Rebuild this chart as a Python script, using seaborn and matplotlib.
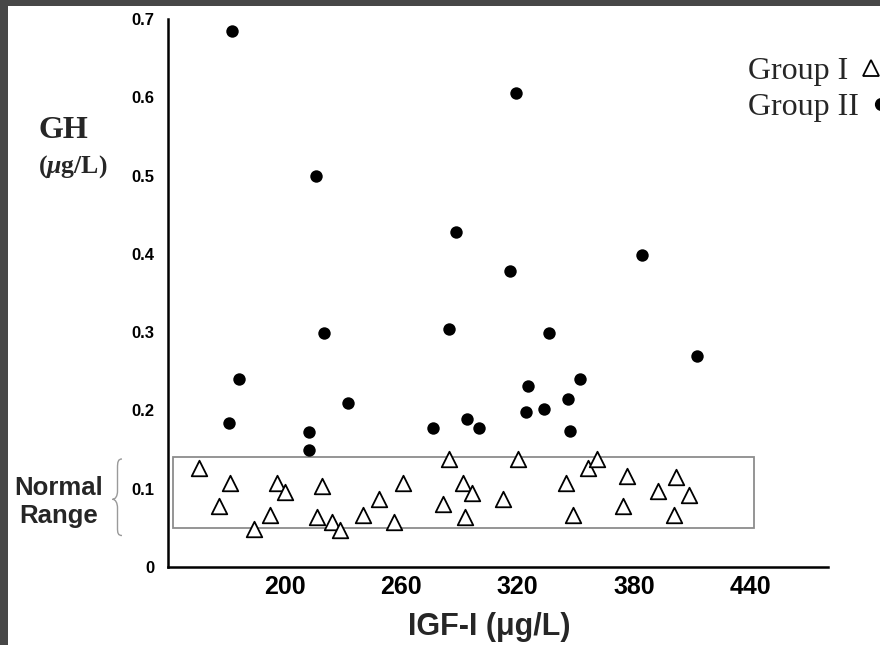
import matplotlib
matplotlib.use("Agg")
import matplotlib.pyplot as plt
from matplotlib.patches import Rectangle, PathPatch
from matplotlib.path import Path
from matplotlib.lines import Line2D
import seaborn as sns
import pandas as pd

# IGF-I (ug/L) and GH (ug/L) for each patient group
group1_igf = [156, 172, 166.5, 184.5, 192.5, 196, 200.5, 219.5, 216.5, 224.5,
              228.5, 240.5, 248.5, 256.5, 261, 281.5, 284.5, 292, 296.5, 293,
              312.5, 320.5, 345, 348.5, 356.5, 361, 376.5, 374.5, 392.5, 401.5,
              408.5, 400.5]
group1_gh = [0.127, 0.107, 0.078, 0.048, 0.067, 0.107, 0.096, 0.103, 0.064, 0.058,
             0.047, 0.066, 0.087, 0.057, 0.107, 0.080, 0.138, 0.107, 0.095, 0.064,
             0.087, 0.138, 0.107, 0.066, 0.126, 0.138, 0.116, 0.078, 0.097, 0.115,
             0.092, 0.066]

group2_igf = [173.1, 319.2, 216.3, 288.6, 316.4, 384.3, 220.4, 284.6, 336.3, 412.4,
              176.7, 325.3, 352.3, 232.6, 346.1, 324.3, 333.7, 171.2, 294.1, 300.4,
              276.7, 347.0, 212.6, 212.6]
group2_gh = [0.685, 0.605, 0.499, 0.428, 0.378, 0.398, 0.299, 0.304, 0.299, 0.269,
             0.240, 0.231, 0.240, 0.209, 0.215, 0.198, 0.202, 0.184, 0.189, 0.178,
             0.178, 0.174, 0.172, 0.149]

# Normal GH range and axis ticks
normal_low, normal_high = 0.05, 0.14
normal_igf_span = (142.5, 442)
x_ticks = [200, 260, 320, 380, 440]
y_ticks = [0, 0.1, 0.2, 0.3, 0.4, 0.5, 0.6, 0.7]
y_tick_labels = ["0", "0.1", "0.2", "0.3", "0.4", "0.5", "0.6", "0.7"]
group_labels = ["Group I", "Group II"]

df1 = pd.DataFrame({"IGF": group1_igf, "GH": group1_gh})
df2 = pd.DataFrame({"IGF": group2_igf, "GH": group2_gh})

sns.set_style("white")
plt.rcParams["mathtext.fontset"] = "custom"
plt.rcParams["mathtext.it"] = "Liberation Serif:italic:bold"
plt.rcParams["mathtext.rm"] = "Liberation Serif:bold"

W, H = 880, 645
fig = plt.figure(figsize=(W / 100, H / 100), dpi=100, facecolor="white")
ax = fig.add_axes([168 / W, 78 / H, (828 - 168) / W, (567 - 19) / H])
ax.set_facecolor("white")

sans = "Liberation Sans"
serif = "Liberation Serif"

# normal range box
ax.add_patch(Rectangle((normal_igf_span[0], normal_low),
                       normal_igf_span[1] - normal_igf_span[0],
                       normal_high - normal_low,
                       fill=False, edgecolor="#8c8c8c", linewidth=1.3, zorder=1))

sns.scatterplot(data=df1, x="IGF", y="GH", ax=ax, marker="^", s=125,
                facecolor="white", edgecolor="black", linewidth=1.3, zorder=3,
                legend=False)
sns.scatterplot(data=df2, x="IGF", y="GH", ax=ax, marker="o", s=80,
                color="black", edgecolor="black", linewidth=0, zorder=3,
                legend=False)

ax.set_xlim(140, 480)
ax.set_ylim(0, 0.7)
ax.set_xticks(x_ticks)
ax.set_xticklabels([str(t) for t in x_ticks], fontfamily=sans,
                   fontweight="bold", fontsize=18)
ax.set_yticks(y_ticks)
ax.set_yticklabels(y_tick_labels, fontfamily=sans, fontweight="bold", fontsize=12)

for side in ["top", "right"]:
    ax.spines[side].set_visible(False)
for side in ["left", "bottom"]:
    ax.spines[side].set_linewidth(1.8)
    ax.spines[side].set_color("black")

ax.tick_params(axis="y", direction="in", length=4.5, width=1.5, pad=9.5,
               colors="black")
ax.tick_params(axis="x", direction="in", length=2.5, width=1.2, pad=6,
               colors="black")

ax.set_xlabel("IGF-I (μg/L)", fontfamily=sans, fontweight="bold", fontsize=22)
ax.xaxis.set_label_coords((489 - 168) / 660, -0.082)
ax.set_ylabel("")

# y-axis title
fig.text(63 / W, 1 - 130 / H, "GH", fontfamily=serif, fontweight="bold",
         fontsize=23, ha="center", va="center")
fig.text(73 / W, 1 - 167 / H, r"($\mathit{\mu}$g/L)", fontfamily=serif,
         fontweight="bold", fontsize=18.5, ha="center", va="center")

# normal range annotation with brace
fig.text(59 / W, 1 - 502 / H, "Normal\nRange", fontfamily=sans,
         fontweight="bold", fontsize=18.5, ha="center", va="center",
         linespacing=1.25)


def px(x, y):
    return (x / W, 1 - y / H)


verts = [px(122, 459), px(118, 459), px(117.5, 462), px(117.5, 468),
         px(117.5, 491),
         px(117.5, 496), px(115.5, 499.3), px(112.5, 499.3),
         px(115.5, 499.3), px(117.5, 503), px(117.5, 508),
         px(117.5, 528),
         px(117.5, 533), px(118, 535.5), px(122, 535.5)]
codes = [Path.MOVETO, Path.CURVE4, Path.CURVE4, Path.CURVE4,
         Path.LINETO,
         Path.CURVE4, Path.CURVE4, Path.CURVE4,
         Path.CURVE4, Path.CURVE4, Path.CURVE4,
         Path.LINETO,
         Path.CURVE4, Path.CURVE4, Path.CURVE4]
fig.patches.append(PathPatch(Path(verts, codes), transform=fig.transFigure,
                             facecolor="none", edgecolor="#9a9a9a", linewidth=1.0))

# legend with markers after the text
handles = [
    Line2D([], [], linestyle="none", marker="^", markersize=11.5,
           markerfacecolor="white", markeredgecolor="black", markeredgewidth=1.3),
    Line2D([], [], linestyle="none", marker="o", markersize=8.5,
           markerfacecolor="black", markeredgecolor="black"),
]
leg = ax.legend(handles, group_labels, markerfirst=False, frameon=False,
                prop={"family": serif, "size": 23}, loc="upper left",
                bbox_to_anchor=(748 / W, 1 - 57 / H), bbox_transform=fig.transFigure,
                borderpad=0, borderaxespad=0, handletextpad=0.3, handlelength=0.8,
                labelspacing=0.2)
# rows start at the same left edge, each marker follows its own label
for column in leg._legend_handle_box.get_children():
    column.align = "left"

# dark scan border on the top and left edges
fig.patches.append(Rectangle((0, 1 - 6 / H), 1, 6 / H, transform=fig.transFigure,
                             facecolor="#474747", edgecolor="none", zorder=10))
fig.patches.append(Rectangle((0, 0), 8 / W, 1, transform=fig.transFigure,
                             facecolor="#474747", edgecolor="none", zorder=10))

fig.savefig("out.png", dpi=100, facecolor="white")
